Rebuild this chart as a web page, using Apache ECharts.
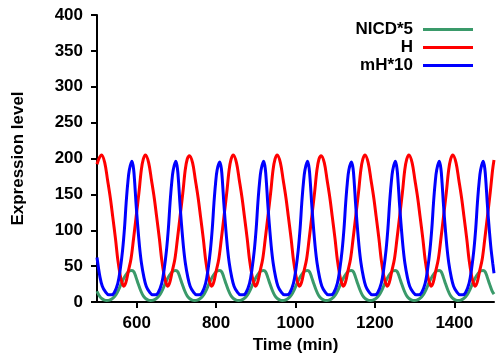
<!DOCTYPE html>
<html>
<head>
<meta charset="utf-8">
<script src="https://cdn.jsdelivr.net/npm/echarts@6/dist/echarts.min.js"></script>
<style>html,body{margin:0;padding:0;background:#fff}#c{width:497px;height:362px}</style>
</head>
<body>
<div id="c"></div>
<script>
// ---- data ----
var seriesNames = ['NICD*5', 'H', 'mH*10'];
var xTicks = [600, 800, 1000, 1200, 1400];

// H (red)
var tH = [500, 505,
  511.6, 519.6, 526.6, 533.6, 539.6, 546.6, 552.6, 558.6, 563.6, 567.6, 572.6, 578.6, 585.6, 591.6, 598.6, 605.6, 611.6, 616.6,
  622.2, 630.2, 637.2, 644.2, 650.2, 657.2, 663.2, 669.2, 674.2, 678.2, 683.2, 689.2, 696.2, 702.2, 709.2, 716.2, 722.2, 727.2,
  732.8, 740.8, 747.8, 754.8, 760.8, 767.8, 773.8, 779.8, 784.8, 788.8, 793.8, 799.8, 806.8, 812.8, 819.8, 826.8, 832.8, 837.8,
  843.4, 851.4, 858.4, 865.4, 871.4, 878.4, 884.4, 890.4, 895.4, 899.4, 904.4, 910.4, 917.4, 923.4, 930.4, 937.4, 943.4, 948.4,
  954, 962, 969, 976, 982, 989, 995, 1001, 1006, 1010, 1015, 1021, 1028, 1034, 1041, 1048, 1054, 1059,
  1064.6, 1072.6, 1079.6, 1086.6, 1092.6, 1099.6, 1105.6, 1111.6, 1116.6, 1120.6, 1125.6, 1131.6, 1138.6, 1144.6, 1151.6, 1158.6, 1164.6, 1169.6,
  1175.2, 1183.2, 1190.2, 1197.2, 1203.2, 1210.2, 1216.2, 1222.2, 1227.2, 1231.2, 1236.2, 1242.2, 1249.2, 1255.2, 1262.2, 1269.2, 1275.2, 1280.2,
  1285.8, 1293.8, 1300.8, 1307.8, 1313.8, 1320.8, 1326.8, 1332.8, 1337.8, 1341.8, 1346.8, 1352.8, 1359.8, 1365.8, 1372.8, 1379.8, 1385.8, 1390.8,
  1396.4, 1404.4, 1411.4, 1418.4, 1424.4, 1431.4, 1437.4, 1443.4, 1448.4, 1452.4, 1457.4, 1463.4, 1470.4, 1476.4, 1483.4, 1490.4, 1496.4, 1500];
var vH = [192, 200,
  205, 194, 170, 145, 119, 88, 58, 37, 26, 22, 27, 42, 60, 86, 119, 152, 184, 199,
  205, 194, 170, 145, 119, 88, 58, 37, 26, 22, 27, 42, 60, 86, 119, 152, 184, 199,
  204, 194, 170, 145, 119, 88, 58, 37, 26, 22, 27, 42, 60, 86, 119, 152, 184, 199,
  205, 194, 170, 145, 119, 88, 58, 37, 26, 22, 27, 42, 60, 86, 119, 152, 184, 199,
  205, 194, 170, 145, 119, 88, 58, 37, 26, 22, 27, 42, 60, 86, 119, 152, 184, 199,
  204, 194, 170, 145, 119, 88, 58, 37, 26, 22, 27, 42, 60, 86, 119, 152, 184, 199,
  205, 194, 170, 145, 119, 88, 58, 37, 26, 22, 27, 42, 60, 86, 119, 152, 184, 199,
  205, 194, 170, 145, 119, 88, 58, 37, 26, 22, 27, 42, 60, 86, 119, 152, 184, 199,
  205, 194, 170, 145, 119, 88, 58, 37, 26, 22, 27, 42, 60, 86, 119, 152, 184, 198];

// mH*10 (blue)
var tM = [500, 507.4, 513.4, 521.4, 529.4, 536.4, 543.4, 552.4, 558.4, 564.4, 569.4, 573.4, 577.4, 581.4,
  588, 592, 595, 598, 602, 607, 612, 618, 624, 632, 640, 647, 654, 663, 669, 675, 680, 684, 688, 692,
  698.6, 702.6, 705.6, 708.6, 712.6, 717.6, 722.6, 728.6, 734.6, 742.6, 750.6, 757.6, 764.6, 773.6, 779.6, 785.6, 790.6, 794.6, 798.6, 802.6,
  809.2, 813.2, 816.2, 819.2, 823.2, 828.2, 833.2, 839.2, 845.2, 853.2, 861.2, 868.2, 875.2, 884.2, 890.2, 896.2, 901.2, 905.2, 909.2, 913.2,
  919.8, 923.8, 926.8, 929.8, 933.8, 938.8, 943.8, 949.8, 955.8, 963.8, 971.8, 978.8, 985.8, 994.8, 1000.8, 1006.8, 1011.8, 1015.8, 1019.8, 1023.8,
  1030.4, 1034.4, 1037.4, 1040.4, 1044.4, 1049.4, 1054.4, 1060.4, 1066.4, 1074.4, 1082.4, 1089.4, 1096.4, 1105.4, 1111.4, 1117.4, 1122.4, 1126.4, 1130.4, 1134.4,
  1141, 1145, 1148, 1151, 1155, 1160, 1165, 1171, 1177, 1185, 1193, 1200, 1207, 1216, 1222, 1228, 1233, 1237, 1241, 1245,
  1251.6, 1255.6, 1258.6, 1261.6, 1265.6, 1270.6, 1275.6, 1281.6, 1287.6, 1295.6, 1303.6, 1310.6, 1317.6, 1326.6, 1332.6, 1338.6, 1343.6, 1347.6, 1351.6, 1355.6,
  1362.2, 1366.2, 1369.2, 1372.2, 1376.2, 1381.2, 1386.2, 1392.2, 1398.2, 1406.2, 1414.2, 1421.2, 1428.2, 1437.2, 1443.2, 1449.2, 1454.2, 1458.2, 1462.2, 1466.2,
  1472.8, 1476.8, 1479.8, 1482.8, 1486.8, 1491.8, 1496.8, 1500];
var vM = [62, 35, 22, 14, 10, 10, 13, 26, 45, 72, 104, 138, 165, 184,
  196, 186, 166, 140, 110, 78, 54, 35, 22, 14, 10, 10, 13, 26, 45, 72, 104, 138, 165, 184,
  196, 186, 166, 140, 110, 78, 54, 35, 22, 14, 10, 10, 13, 26, 45, 72, 104, 138, 165, 184,
  195, 186, 166, 140, 110, 78, 54, 35, 22, 14, 10, 10, 13, 26, 45, 72, 104, 138, 165, 184,
  196, 186, 166, 140, 110, 78, 54, 35, 22, 14, 10, 10, 13, 26, 45, 72, 104, 138, 165, 184,
  196, 186, 166, 140, 110, 78, 54, 35, 22, 14, 10, 10, 13, 26, 45, 72, 104, 138, 165, 184,
  195, 186, 166, 140, 110, 78, 54, 35, 22, 14, 10, 10, 13, 26, 45, 72, 104, 138, 165, 184,
  196, 186, 166, 140, 110, 78, 54, 35, 22, 14, 10, 10, 13, 26, 45, 72, 104, 138, 165, 184,
  196, 186, 166, 140, 110, 78, 54, 35, 22, 14, 10, 10, 13, 26, 45, 72, 104, 138, 165, 184,
  196, 186, 166, 140, 110, 78, 54, 40];

// NICD*5 (green)
var tN = [500, 505.4, 511.4, 517.4, 524.4, 531.4, 539.4, 547.4, 554.4, 561.4, 568.4, 575.4, 581.4,
  588, 593, 598, 604, 610, 616, 622, 628, 635, 642, 650, 658, 665, 672, 679, 686, 692,
  698.6, 703.6, 708.6, 714.6, 720.6, 726.6, 732.6, 738.6, 745.6, 752.6, 760.6, 768.6, 775.6, 782.6, 789.6, 796.6, 802.6,
  809.2, 814.2, 819.2, 825.2, 831.2, 837.2, 843.2, 849.2, 856.2, 863.2, 871.2, 879.2, 886.2, 893.2, 900.2, 907.2, 913.2,
  919.8, 924.8, 929.8, 935.8, 941.8, 947.8, 953.8, 959.8, 966.8, 973.8, 981.8, 989.8, 996.8, 1003.8, 1010.8, 1017.8, 1023.8,
  1030.4, 1035.4, 1040.4, 1046.4, 1052.4, 1058.4, 1064.4, 1070.4, 1077.4, 1084.4, 1092.4, 1100.4, 1107.4, 1114.4, 1121.4, 1128.4, 1134.4,
  1141, 1146, 1151, 1157, 1163, 1169, 1175, 1181, 1188, 1195, 1203, 1211, 1218, 1225, 1232, 1239, 1245,
  1251.6, 1256.6, 1261.6, 1267.6, 1273.6, 1279.6, 1285.6, 1291.6, 1298.6, 1305.6, 1313.6, 1321.6, 1328.6, 1335.6, 1342.6, 1349.6, 1355.6,
  1362.2, 1367.2, 1372.2, 1378.2, 1384.2, 1390.2, 1396.2, 1402.2, 1409.2, 1416.2, 1424.2, 1432.2, 1439.2, 1446.2, 1453.2, 1460.2, 1466.2,
  1472.8, 1477.8, 1482.8, 1488.8, 1494.8, 1500];
var vN = [15, 9, 5, 3, 2, 2.5, 5, 10, 17, 26, 34, 40, 43.5,
  44, 42, 35, 25, 16, 9, 5, 3, 2, 2.5, 5, 10, 17, 26, 34, 40, 43.5,
  44, 42, 35, 25, 16, 9, 5, 3, 2, 2.5, 5, 10, 17, 26, 34, 40, 43.5,
  44, 42, 35, 25, 16, 9, 5, 3, 2, 2.5, 5, 10, 17, 26, 34, 40, 43.5,
  44, 42, 35, 25, 16, 9, 5, 3, 2, 2.5, 5, 10, 17, 26, 34, 40, 43.5,
  44, 42, 35, 25, 16, 9, 5, 3, 2, 2.5, 5, 10, 17, 26, 34, 40, 43.5,
  44, 42, 35, 25, 16, 9, 5, 3, 2, 2.5, 5, 10, 17, 26, 34, 40, 43.5,
  44, 42, 35, 25, 16, 9, 5, 3, 2, 2.5, 5, 10, 17, 26, 34, 40, 43.5,
  44, 42, 35, 25, 16, 9, 5, 3, 2, 2.5, 5, 10, 17, 26, 34, 40, 43.5,
  44, 42, 35, 25, 16, 11];

function pairs(t, v) { return t.map(function (x, i) { return [x, v[i]]; }); }

var FONT = '"Liberation Sans", Arial, Helvetica, sans-serif';
var chart = echarts.init(document.getElementById('c'), null, { renderer: 'canvas' });
chart.setOption({
  animation: false,
  backgroundColor: '#ffffff',
  grid: { left: 97, right: 3, top: 15, bottom: 60, containLabel: false },
  legend: {
    orient: 'vertical', align: 'right', right: 24, top: 21, padding: 0,
    icon: 'rect', itemWidth: 50, itemHeight: 3, itemGap: 1,
    data: seriesNames,
    textStyle: { fontFamily: FONT, fontWeight: 'bold', fontSize: 17, lineHeight: 17, color: '#000', padding: [0, 5, 0, 0] }
  },
  xAxis: {
    type: 'value', min: 500, max: 1500,
    name: 'Time (min)', nameLocation: 'middle', nameGap: 31,
    nameTextStyle: { fontFamily: FONT, fontWeight: 'bold', fontSize: 17, color: '#000' },
    splitLine: { show: false },
    axisLine: { show: true, onZero: false, lineStyle: { color: '#000', width: 2 } },
    axisTick: { show: true, length: 6, customValues: xTicks, lineStyle: { color: '#000', width: 2 } },
    axisLabel: { customValues: xTicks, margin: 13, fontFamily: FONT, fontWeight: 'bold', fontSize: 17, color: '#000',
      formatter: function (v) { return String(v); } }
  },
  yAxis: {
    type: 'value', min: 0, max: 400, interval: 50,
    name: 'Expression level', nameLocation: 'middle', nameGap: 70, nameRotate: 90,
    nameTextStyle: { fontFamily: FONT, fontWeight: 'bold', fontSize: 17, color: '#000' },
    splitLine: { show: false },
    axisLine: { show: true, lineStyle: { color: '#000', width: 2 } },
    axisTick: { show: true, length: 6, lineStyle: { color: '#000', width: 2 } },
    axisLabel: { margin: 14, fontFamily: FONT, fontWeight: 'bold', fontSize: 17, color: '#000',
      formatter: function (v) { return String(v); } }
  },
  series: [
    { name: seriesNames[0], type: 'line', data: pairs(tN, vN), symbol: 'none', smooth: 0.35,
      lineStyle: { color: '#3a9a6a', width: 3 }, itemStyle: { color: '#3a9a6a' } },
    { name: seriesNames[1], type: 'line', data: pairs(tH, vH), symbol: 'none', smooth: 0.35,
      lineStyle: { color: '#ff0000', width: 3 }, itemStyle: { color: '#ff0000' } },
    { name: seriesNames[2], type: 'line', data: pairs(tM, vM), symbol: 'none', smooth: 0.35,
      lineStyle: { color: '#0000ff', width: 3 }, itemStyle: { color: '#0000ff' } }
  ]
});
</script>
</body>
</html>
